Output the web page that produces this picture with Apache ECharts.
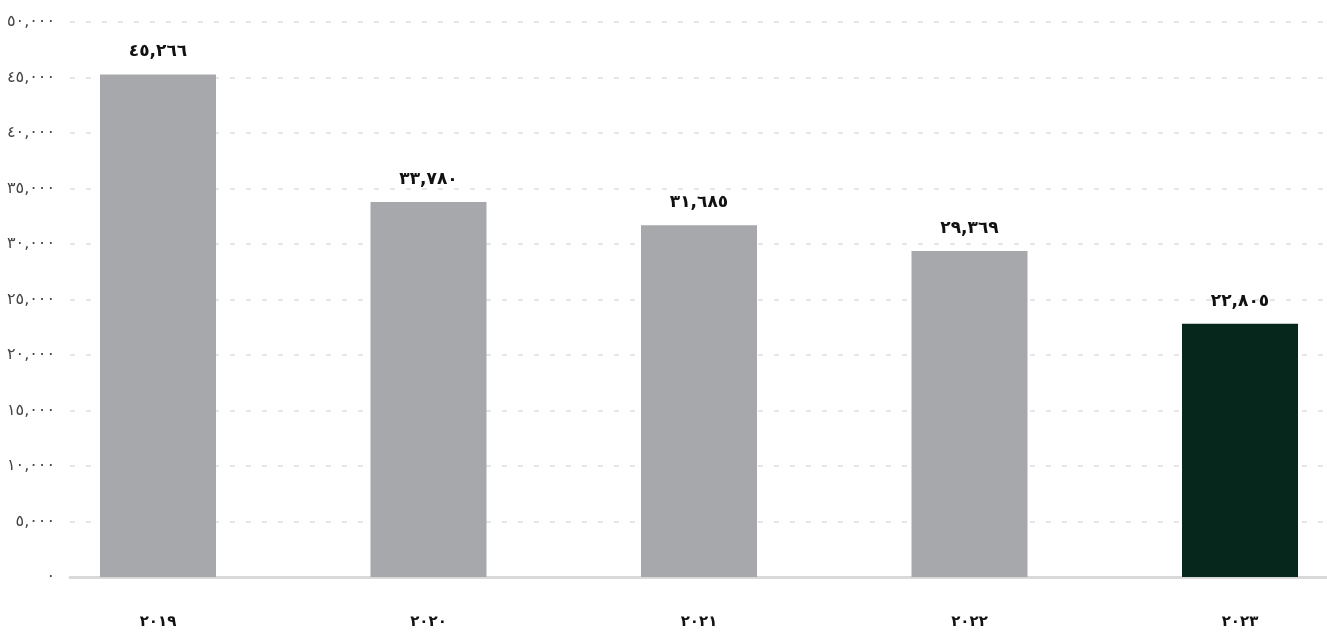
<!DOCTYPE html>
<html>
<head>
<meta charset="utf-8">
<script src="https://cdn.jsdelivr.net/npm/echarts@6/dist/echarts.min.js"></script>
<style>
  html, body { margin: 0; padding: 0; background: #fff; }
  #chart { width: 1327px; height: 641px; }
</style>
</head>
<body>
<div id="chart"></div>
<script>
// Yearly totals
const years = ['2019', '2020', '2021', '2022', '2023'];
const totals = [45266, 33780, 31685, 29369, 22805];
const barColors = ['#a7a8ab', '#a7a8ab', '#a7a8ab', '#a7a8ab', '#05271c'];

// Eastern Arabic digits
const AR_DIGITS = '٠١٢٣٤٥٦٧٨٩';
function toArabic(str) {
  return String(str).replace(/[0-9]/g, d => AR_DIGITS[+d]);
}
function fmtNum(v) {
  return toArabic(Math.round(v).toString().replace(/\B(?=(\d{3})+(?!\d))/g, ','));
}

const FONT = '"DejaVu Sans", "Noto Sans", sans-serif';
const chart = echarts.init(document.getElementById('chart'));

chart.setOption({
  animation: false,
  grid: { left: 70, right: 0, top: 22, bottom: 64 },
  xAxis: {
    type: 'value',
    min: -0.3253,
    max: 4.3216,
    axisLine: { show: true, onZero: false, lineStyle: { color: '#d9d9d9', width: 3 } },
    axisTick: { show: false },
    splitLine: { show: false },
    axisLabel: {
      customValues: [0, 1, 2, 3, 4],
      formatter: v => toArabic(years[Math.round(v)]),
      margin: 38,
      fontSize: 15,
      fontWeight: 'bold',
      color: '#111',
      fontFamily: FONT
    }
  },
  yAxis: {
    type: 'value',
    min: 0,
    max: 50000,
    interval: 5000,
    axisLine: { show: false },
    axisTick: { show: false },
    splitLine: { show: true, lineStyle: { color: '#e6e6e6', width: 2, type: [5, 11] } },
    axisLabel: {
      formatter: v => fmtNum(v),
      margin: 15,
      fontSize: 16,
      color: '#444',
      fontFamily: FONT
    }
  },
  series: [{
    type: 'bar',
    barWidth: 116,
    data: totals.map((v, i) => ({
      value: [i, v],
      itemStyle: { color: barColors[i] }
    })),
    label: {
      show: true,
      position: 'top',
      distance: 14,
      formatter: p => fmtNum(p.value[1]),
      fontSize: 17,
      fontWeight: 'bold',
      color: '#111',
      fontFamily: FONT
    }
  }]
});
</script>
</body>
</html>
